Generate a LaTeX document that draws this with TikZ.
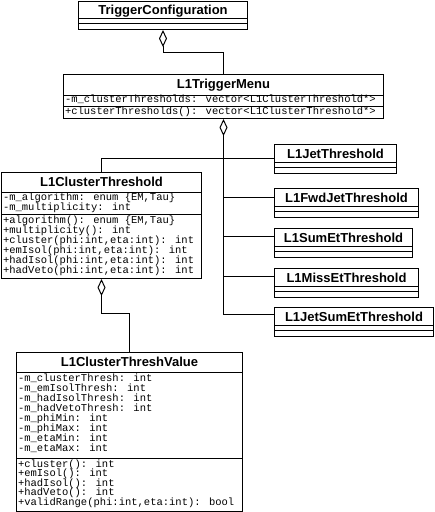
\documentclass[tikz,border=0pt]{standalone}
\usepackage{fontspec}
\newfontfamily\umltitle{Liberation Sans}
\newfontfamily\umlmono{Liberation Mono}
\usetikzlibrary{arrows.meta}
\tikzset{
  classline/.style={line width=1pt, draw=black},
  classbox/.style={classline, rectangle, inner sep=0pt, fill=white},
  titletext/.style={font=\umltitle\bfseries\fontsize{13}{15}\selectfont, inner sep=0pt},
  rowtext/.style={font=\umlmono\fontsize{10.5}{10}\selectfont, inner sep=0pt},
  agg/.style={classline, {Diamond[open,length=17pt,width=8pt]}-},
}
\newcommand\umlclass[8]{%
  \node[classbox, minimum width=#4pt, minimum height=#5pt, anchor=north west] (#1) at (#2,#3) {};
  \node[titletext, anchor=base] (#1-title) at ([yshift=-14pt]#1.north) {#6};
  \draw[classline] ([yshift=-#7pt]#1.north west) -- ([yshift=-#7pt]#1.north east);
  \draw[classline] ([yshift=-#8pt]#1.north west) -- ([yshift=-#8pt]#1.north east);
}
\newcommand\umlrows[5]{%
  \foreach \umltext [count=\umli] in {#5}{%
    \node[rowtext, anchor=base west] (#1-#2-\umli) at ([xshift=1.8pt, yshift={-(#3+#4*(\umli-1))*1pt}]#1.north west) {\umltext};
  }%
}
\begin{document}
\begin{tikzpicture}[x=1pt, y=-1pt]
\useasboundingbox (0,0) rectangle (435,512);

\umlclass{tc}{78}{0.5}{169}{28.5}{TriggerConfiguration}{17.5}{23}

\umlclass{menu}{63}{74}{320}{44}{L1TriggerMenu}{21}{32}
\umlrows{menu}{a}{28.5}{10}{{-m\_clusterThresholds: vector<L1ClusterThreshold*>}}
\umlrows{menu}{m}{40}{10}{{+clusterThresholds(): vector<L1ClusterThreshold*>}}

\umlclass{ct}{1}{172}{200}{106}{L1ClusterThreshold}{20}{42}
\umlrows{ct}{a}{28.5}{9.5}{{-m\_algorithm: enum \{EM,Tau\}},{-m\_multiplicity: int}}
\umlrows{ct}{m}{51}{10}{{+algorithm(): enum \{EM,Tau\}},{+multiplicity(): int},{+cluster(phi:int,eta:int): int},{+emIsol(phi:int,eta:int): int},{+hadIsol(phi:int,eta:int): int},{+hadVeto(phi:int,eta:int): int}}

\umlclass{ctv}{16}{352}{226}{159}{L1ClusterThreshValue}{20}{106}
\umlrows{ctv}{a}{29}{10.1}{{-m\_clusterThresh: int},{-m\_emIsolThresh: int},{-m\_hadIsolThresh: int},{-m\_hadVetoThresh: int},{-m\_phiMin: int},{-m\_phiMax: int},{-m\_etaMin: int},{-m\_etaMax: int}}
\umlrows{ctv}{m}{115}{9.6}{{+cluster(): int},{+emIsol(): int},{+hadIsol(): int},{+hadVeto(): int},{+validRange(phi:int,eta:int): bool}}

\umlclass{jet}{274}{144}{122}{29}{L1JetThreshold}{18}{23.5}
\umlclass{fwd}{274}{188}{144}{29}{L1FwdJetThreshold}{18}{23.5}
\umlclass{sum}{274}{228}{138}{29}{L1SumEtThreshold}{18}{23.5}
\umlclass{miss}{274}{268}{144}{29}{L1MissEtThreshold}{18}{23.5}
\umlclass{jsum}{274}{307}{159}{29}{L1JetSumEtThreshold}{18}{23.5}

\coordinate (jetin) at ([yshift=-14pt]jet.north west);
\coordinate (fwdin) at ([yshift=-9pt]fwd.north west);
\coordinate (sumin) at ([yshift=-8pt]sum.north west);
\coordinate (missin) at ([yshift=-8pt]miss.north west);
\coordinate (jsumin) at ([yshift=-7pt]jsum.north west);

\draw[agg] (tc.south) -- ++(0,22) -| (menu.north);
\draw[agg] (menu.south) -- (menu.south |- jsumin) -- (jsumin);
\draw[classline] (ct.north) |- (jetin);
\foreach \b in {fwdin,sumin,missin} \draw[classline] (menu.south |- \b) -- (\b);
\draw[agg] (ct.south) -- ++(0,34) -| (ctv.north);
\end{tikzpicture}
\end{document}
